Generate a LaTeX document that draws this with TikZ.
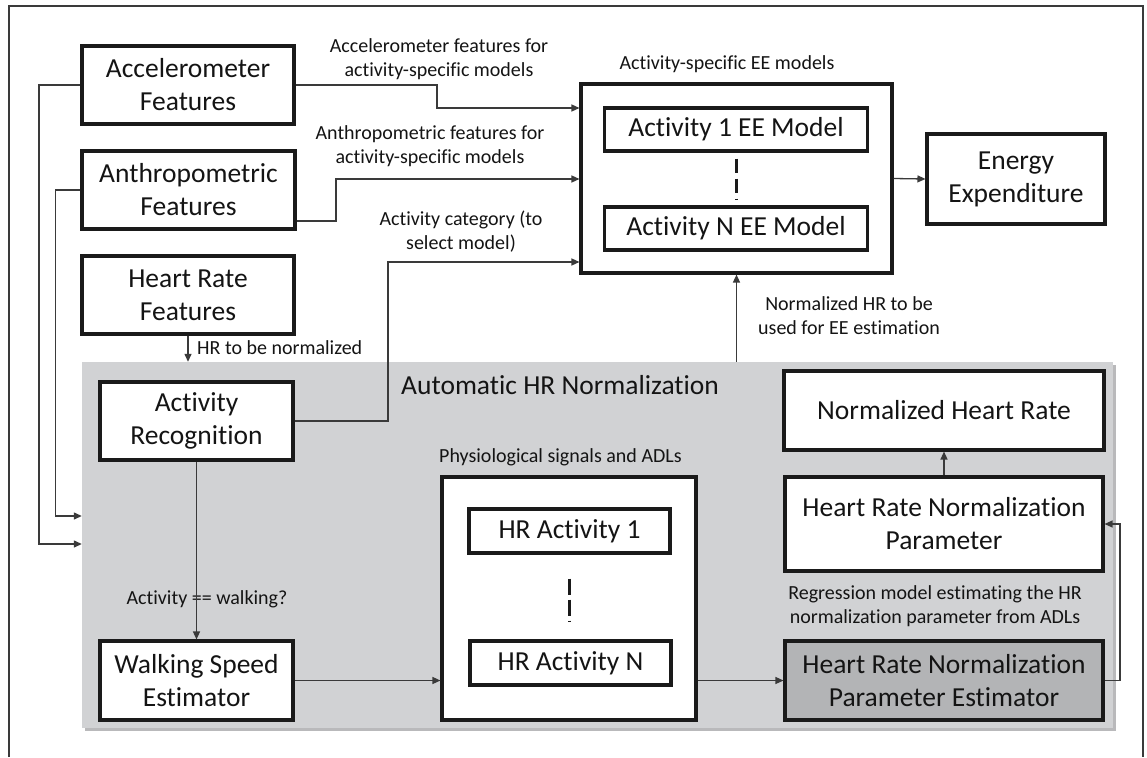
\documentclass[tikz,border=0pt]{standalone}
\usepackage{fontspec}
\setmainfont{Carlito}[Ligatures=NoCommon]
\usetikzlibrary{arrows.meta}
\definecolor{grayreg}{HTML}{D1D2D4}
\definecolor{graydark}{HTML}{B3B4B6}
\definecolor{shadowc}{HTML}{B9B9BB}
\definecolor{linec}{HTML}{3A3A3A}
\definecolor{boxc}{HTML}{1A1A1A}
\definecolor{txtc}{HTML}{141414}
\begin{document}
\begin{tikzpicture}[x=1pt,y=-1pt,
  box/.style={draw=boxc, line width=3.1pt, fill=white, align=center, inner sep=0pt,
    font=\fontsize{27.5}{33}\selectfont, text=txtc},
  lbl/.style={align=center, inner sep=0pt, font=\fontsize{20}{24}\selectfont, text=txtc},
  conn/.style={draw=linec, line width=1.3pt, -{Triangle[length=8pt,width=7pt]}},
  dsh/.style={draw=boxc, line width=3pt, dash pattern=on 14pt off 6pt}]
\useasboundingbox (0,0) rectangle (1147,757);
\fill[white] (0,0) rectangle (1147,757);
% outer frame
\draw[linec, line width=1.3pt] (9,757) -- (9,6) -- (1143,6) -- (1143,757);
% gray region with shadow
\fill[shadowc] (85,365) rectangle (1116,731);
\node[fill=grayreg, minimum width=1031pt, minimum height=366pt, inner sep=0pt] (auto) at (597.5,545) {};
\node[anchor=west, inner sep=0pt, font=\fontsize{27.5}{33}\selectfont, text=txtc] (autolbl) at (401,385) {Automatic HR Normalization};
% top-left boxes
\node[box, minimum width=212pt, minimum height=78pt] (acc) at (188,85) {Accelerometer\\Features};
\node[box, minimum width=213pt, minimum height=78pt] (ant) at (188.5,190) {Anthropometric\\Features};
\node[box, minimum width=212pt, minimum height=78pt] (hrf) at (188,295) {Heart Rate\\Features};
% EE models
\node[box, minimum width=311pt, minimum height=189pt] (EEm) at (736.5,178.5) {};
\node[box, minimum width=263pt, minimum height=43pt] (a1m) at (736,129.5) {Activity 1 EE Model};
\node[box, minimum width=263pt, minimum height=43pt] (anm) at (736,228.5) {Activity N EE Model};
\draw[dsh] ([yshift=-6pt]a1m.south) -- ([yshift=5pt]anm.north);
\node[lbl] (EEmlbl) at (727,64) {Activity-specific EE models};
\node[box, minimum width=178pt, minimum height=90pt] (en) at (1016,179) {Energy\\Expenditure};
% inside gray region
\node[box, minimum width=193pt, minimum height=78pt] (ar) at (196.5,421) {Activity\\Recognition};
\node[box, minimum width=193pt, minimum height=79pt] (wse) at (196.5,680.5) {Walking Speed\\Estimator};
\node[box, minimum width=254pt, minimum height=243pt] (phys) at (569,598.5) {};
\node[box, minimum width=201pt, minimum height=44pt] (hr1) at (569.5,531) {HR Activity 1};
\node[box, minimum width=201pt, minimum height=44pt] (hrn) at (570.5,663) {HR Activity N};
\coordinate (dtop) at ([yshift=-24pt]hr1.south);
\coordinate (dbot) at ([yshift=18pt]hrn.north);
\draw[dsh, dash pattern=on 16pt off 5pt] (dtop) -- (dtop |- dbot);
\node[lbl, anchor=west] (physlbl) at (439,457) {Physiological signals and ADLs};
\node[box, minimum width=320pt, minimum height=79pt] (nhr) at (944,410.5) {Normalized Heart Rate};
\node[box, minimum width=318pt, minimum height=94pt] (hrnp) at (944,524) {Heart Rate Normalization\\Parameter};
\node[box, fill=graydark, minimum width=318pt, minimum height=79pt] (est) at (944,680.5) {Heart Rate Normalization\\Parameter Estimator};
% labels
\node[lbl] (l1lbl) at (439,59) {Accelerometer features for\\activity-specific models};
\node[lbl] (l2lbl) at (430,146.5) {Anthropometric features for\\activity-specific models};
\node[lbl] (l3lbl) at (461,231.5) {Activity category (to\\select model)};
\node[lbl] (l4lbl) at (849,316) {Normalized HR to be\\used for EE estimation};
\node[lbl, anchor=west] (l5lbl) at (197,348) {HR to be normalized};
\node[lbl] (l6lbl) at (207,599) {Activity == walking?};
\node[lbl] (l7lbl) at (935,606) {Regression model estimating the HR\\normalization parameter from ADLs};
% connectors
\coordinate (b1) at (437,85);
\coordinate (b2) at (437,108);
\draw[conn] (acc.east) -- (b1) -- (b2) -- (b2 -| EEm.west);
\coordinate (c1) at (336,221);
\coordinate (c2) at (336,179);
\draw[conn] (c1 -| ant.east) -- (c1) -- (c2) -- (c2 -| EEm.west);
\coordinate (d1) at (388,262);
\draw[conn] (ar.east) -| (d1) -- (d1 -| EEm.west);
\draw[conn] (EEm.east) -- (en.west);
\draw[conn] (auto.north -| EEm.south) -- (EEm.south);
\draw[conn] (hrf.south) -- (hrf.south |- auto.north);
\coordinate (e1) at (39,544);
\draw[conn] (acc.west) -| (e1) -- (e1 -| auto.west);
\coordinate (e2) at (55.5,516);
\draw[conn] (ant.west) -| (e2) -- (e2 -| auto.west);
\draw[conn] (ar.south) -- (wse.north);
\draw[conn] (wse.east) -- (wse.east -| phys.west);
\draw[conn] (phys.east |- est.west) -- (est.west);
\coordinate (r1) at (1120,680.5);
\draw[conn] (est.east) -- (r1) |- (hrnp.east);
\draw[conn] (hrnp.north) -- (nhr.south);
\end{tikzpicture}
\end{document}
